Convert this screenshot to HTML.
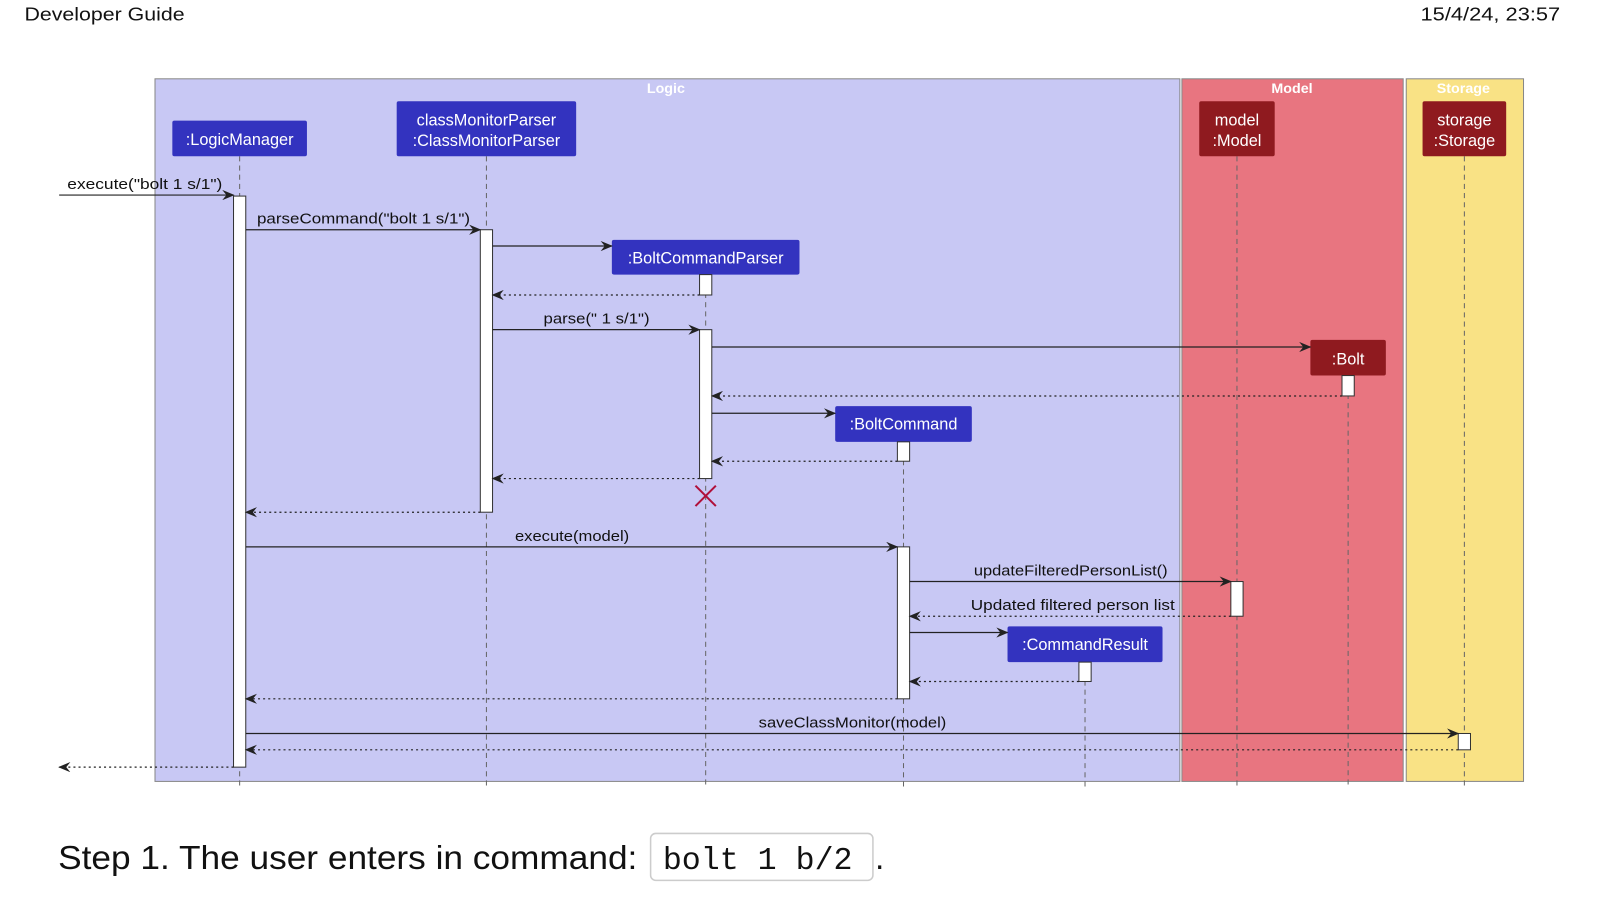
<!DOCTYPE html>
<html><head><style>
html,body{margin:0;padding:0;background:#fff;width:1600px;height:900px;overflow:hidden}
svg{display:block}
</style></head><body>
<svg width="1600" height="900" viewBox="0 0 1569 882" xmlns="http://www.w3.org/2000/svg" font-family="'Liberation Sans', sans-serif">
<defs>
<marker id="a" markerWidth="12" markerHeight="10" refX="11" refY="5" orient="auto" markerUnits="userSpaceOnUse"><path d="M0,0 L12,5 L0,10 L4,5 Z" fill="#222"/></marker>
</defs>
<text x="24" y="20" font-size="18" fill="#111" textLength="157" lengthAdjust="spacingAndGlyphs">Developer Guide</text>
<text x="1393" y="20" font-size="18" fill="#111" textLength="137" lengthAdjust="spacingAndGlyphs">15/4/24, 23:57</text>
<rect x="152" y="77" width="1005" height="689" fill="#c8c8f4" stroke="#888"/>
<rect x="1159" y="77" width="217" height="689" fill="#e87580" stroke="#888"/>
<rect x="1379" y="77" width="115" height="689" fill="#f9e285" stroke="#888"/>
<g font-size="14" font-weight="bold" fill="#fff" text-anchor="middle">
<text x="653" y="91">Logic</text><text x="1267" y="91">Model</text><text x="1435" y="91">Storage</text></g>
<g stroke="#666" stroke-dasharray="5,4" stroke-width="1">
<line x1="235" y1="153" x2="235" y2="772"/><line x1="477" y1="153" x2="477" y2="772"/>
<line x1="692" y1="269" x2="692" y2="772"/><line x1="886" y1="433" x2="886" y2="772"/>
<line x1="1064" y1="649" x2="1064" y2="772"/><line x1="1213" y1="153" x2="1213" y2="772"/>
<line x1="1322" y1="368" x2="1322" y2="772"/><line x1="1436" y1="153" x2="1436" y2="772"/>
</g>
<g font-size="16" fill="#fff" text-anchor="middle">
<rect x="169" y="118" width="132" height="35" rx="2" fill="#3333bf"/><text x="235" y="142">:LogicManager</text>
<rect x="389" y="99" width="176" height="54" rx="2" fill="#3333bf"/><text x="477" y="123">classMonitorParser</text><text x="477" y="143">:ClassMonitorParser</text>
<rect x="600" y="235" width="184" height="34" rx="2" fill="#3333bf"/><text x="692" y="258">:BoltCommandParser</text>
<rect x="819" y="398" width="134" height="35" rx="2" fill="#3333bf"/><text x="886" y="421">:BoltCommand</text>
<rect x="988" y="614" width="152" height="35" rx="2" fill="#3333bf"/><text x="1064" y="637">:CommandResult</text>
<rect x="1176" y="99" width="74" height="54" rx="2" fill="#8f1a1f"/><text x="1213" y="123">model</text><text x="1213" y="143">:Model</text>
<rect x="1285" y="333" width="74" height="35" rx="2" fill="#8f1a1f"/><text x="1322" y="357">:Bolt</text>
<rect x="1395" y="99" width="82" height="54" rx="2" fill="#8f1a1f"/><text x="1436" y="123">storage</text><text x="1436" y="143">:Storage</text>
</g>
<g fill="#fff" stroke="#333" stroke-width="1">
<rect x="229" y="192" width="12" height="560"/><rect x="471" y="225" width="12" height="277"/>
<rect x="686" y="269" width="12" height="20"/><rect x="686" y="323" width="12" height="146"/>
<rect x="1316" y="368" width="12" height="20"/><rect x="880" y="433" width="12" height="19"/>
<rect x="880" y="536" width="12" height="149"/><rect x="1058" y="649" width="12" height="19"/>
<rect x="1207" y="570" width="12" height="34"/><rect x="1430" y="719" width="12" height="16"/>
</g>
<g stroke="#b0103a" stroke-width="2"><line x1="682" y1="476" x2="702" y2="496"/><line x1="702" y1="476" x2="682" y2="496"/></g>
<g stroke="#222" stroke-width="1.2" fill="none" marker-end="url(#a)">
<line x1="58" y1="191" x2="229" y2="191"/>
<line x1="241" y1="225" x2="471" y2="225"/>
<line x1="483" y1="241" x2="600" y2="241"/>
<line x1="483" y1="323" x2="686" y2="323"/>
<line x1="698" y1="340" x2="1285" y2="340"/>
<line x1="698" y1="405" x2="819" y2="405"/>
<line x1="241" y1="536" x2="880" y2="536"/>
<line x1="892" y1="570" x2="1207" y2="570"/>
<line x1="892" y1="620" x2="988" y2="620"/>
<line x1="241" y1="719" x2="1430" y2="719"/>
<g stroke-dasharray="2,3">
<line x1="686" y1="289" x2="483" y2="289"/>
<line x1="1316" y1="388" x2="698" y2="388"/>
<line x1="880" y1="452" x2="698" y2="452"/>
<line x1="686" y1="469" x2="483" y2="469"/>
<line x1="471" y1="502" x2="241" y2="502"/>
<line x1="1207" y1="604" x2="892" y2="604"/>
<line x1="1058" y1="668" x2="892" y2="668"/>
<line x1="880" y1="685" x2="241" y2="685"/>
<line x1="1430" y1="735" x2="241" y2="735"/>
<line x1="229" y1="752" x2="58" y2="752"/>
</g></g>
<g font-size="14.5" fill="#111" lengthAdjust="spacingAndGlyphs">
<text x="66" y="185" textLength="152" lengthAdjust="spacingAndGlyphs">execute("bolt 1 s/1")</text>
<text x="252" y="219" textLength="209" lengthAdjust="spacingAndGlyphs">parseCommand("bolt 1 s/1")</text>
<text x="533" y="317" textLength="104" lengthAdjust="spacingAndGlyphs">parse(" 1 s/1")</text>
<text x="505" y="530" textLength="112" lengthAdjust="spacingAndGlyphs">execute(model)</text>
<text x="955" y="564" textLength="190" lengthAdjust="spacingAndGlyphs">updateFilteredPersonList()</text>
<text x="952" y="598" textLength="200" lengthAdjust="spacingAndGlyphs">Updated filtered person list</text>
<text x="744" y="713" textLength="184" lengthAdjust="spacingAndGlyphs">saveClassMonitor(model)</text>
</g>
<text x="57" y="852" font-size="33" fill="#111" textLength="568" lengthAdjust="spacingAndGlyphs">Step 1. The user enters in command:</text>
<rect x="638" y="817" width="218" height="46" rx="5" fill="#fff" stroke="#ccc" stroke-width="1.5"/>
<text x="650" y="852" font-size="31" font-family="'Liberation Mono', monospace" fill="#111">bolt 1 b/2</text>
<text x="858" y="852" font-size="33" fill="#111">.</text>
</svg>
</body></html>
